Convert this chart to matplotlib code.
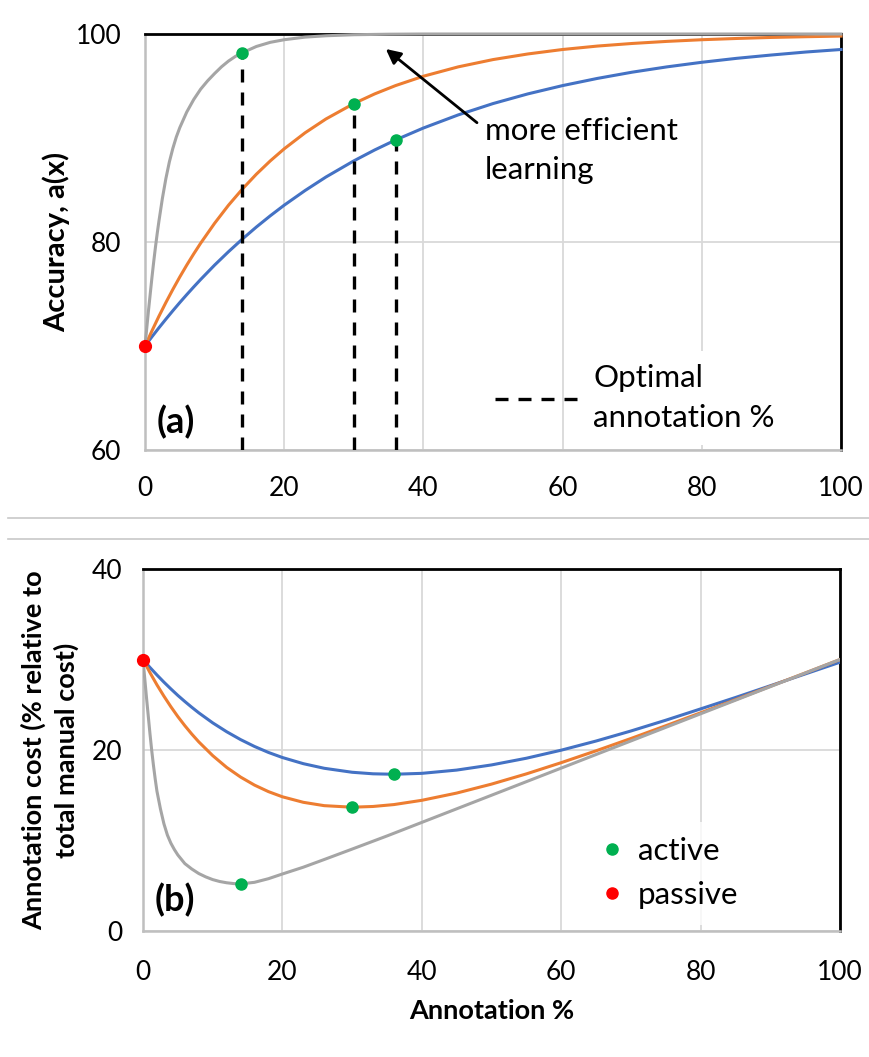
import matplotlib
matplotlib.use("Agg")
import matplotlib.pyplot as plt
from matplotlib.lines import Line2D

plt.rcParams['font.family'] = ['Lato', 'DejaVu Sans']

# ---------------- data ----------------
annot_pct = [0, 1, 2, 3, 4, 5, 6, 7, 8, 10, 12, 14, 16, 18, 20, 23, 26, 30, 33, 36,
             40, 45, 50, 55, 60, 65, 70, 75, 80, 85, 90, 95, 100]

acc_blue = [70.0, 70.89, 71.75, 72.58, 73.39, 74.18, 74.94, 75.68, 76.40, 77.78, 79.07,
            80.29, 81.44, 82.52, 83.54, 84.95, 86.25, 87.80, 88.85, 89.81, 90.96, 92.22,
            93.31, 94.24, 95.04, 95.73, 96.33, 96.84, 97.28, 97.66, 97.98, 98.27, 98.51]
acc_orange = [70.0, 71.46, 72.86, 74.18, 75.44, 76.64, 77.78, 78.86, 79.89, 81.80, 83.54,
              85.10, 86.52, 87.80, 88.96, 90.50, 91.83, 93.31, 94.24, 95.04, 95.94, 96.84,
              97.54, 98.08, 98.51, 98.84, 99.09, 99.29, 99.45, 99.57, 99.67, 99.74, 99.80]
cost_blue = [30.0, 29.12, 28.29, 27.50, 26.75, 26.03, 25.36, 24.72, 24.11, 23.00, 22.02,
             21.15, 20.39, 19.73, 19.17, 18.49, 17.98, 17.54, 17.37, 17.32, 17.42, 17.78,
             18.35, 19.09, 19.98, 20.99, 22.10, 23.29, 24.54, 25.80, 27.10, 28.40, 29.70]
cost_orange = [30.0, 28.55, 27.20, 25.95, 24.78, 23.69, 22.69, 21.76, 20.90, 19.38, 18.08,
               17.01, 16.12, 15.40, 14.83, 14.22, 13.85, 13.68, 13.76, 13.97, 14.44, 15.24,
               16.23, 17.36, 18.60, 19.91, 21.27, 22.68, 24.11, 25.56, 27.03, 28.51, 30.0]

gray_pct = [0, 0.25, 0.5, 0.75, 1, 1.25, 1.5, 1.75, 2, 2.5, 3, 3.5, 4, 4.5, 5,
            6, 7, 8, 9, 10, 11, 12, 13, 14, 16, 18, 20, 23, 26, 30, 35, 40,
            50, 60, 70, 80, 90, 100]
acc_gray = [70.0, 71.7, 73.4, 75.0, 76.6, 78.1, 79.5, 80.8, 82.0, 84.2, 86.1, 87.7, 89.0,
            90.1, 91.0, 92.5, 93.7, 94.7, 95.5, 96.2, 96.85, 97.4, 97.85, 98.2, 98.8,
            99.2, 99.45, 99.7, 99.83, 99.93, 99.98, 100.0,
            100.0, 100.0, 100.0, 100.0, 100.0, 100.0]
cost_gray = [30.0, 27.9, 25.8, 23.8, 21.8, 19.95, 18.3, 16.8, 15.45, 13.5, 11.85, 10.6,
             9.7, 9.0, 8.4, 7.45, 6.85, 6.35, 5.98, 5.68, 5.47, 5.33, 5.24, 5.2, 5.38, 5.78,
             6.3, 7.05, 7.9, 9.05, 10.5, 12.0, 15.0, 18.0, 21.0, 24.0, 27.0, 30.0]

opt_x = [14, 30, 36]                 # optimal annotation % (gray, orange, blue)
opt_acc = [98.2, 93.31, 89.81]
opt_cost = [5.2, 13.68, 17.32]
passive_x = [0]
passive_acc = [70]
passive_cost = [30]

x_ticks = [0, 20, 40, 60, 80, 100]
acc_ticks = [60, 80, 100]
cost_ticks = [0, 20, 40]

# ---------------- style ----------------
C_BLUE = '#4472C4'
C_ORANGE = '#ED7D31'
C_GRAY = '#A5A5A5'
C_GREEN = '#00B050'
C_RED = '#FF0000'
GRID = '#D9D9D9'
AXGRAY = '#BFBFBF'
LW = 2.2
DASH = (0, (3.9, 3.0))

fig = plt.figure(figsize=(8.70, 10.57), dpi=100)
ax1 = fig.add_axes([145/870, 1-450/1057, 696/870, 416/1057])
ax2 = fig.add_axes([143/870, 1-931/1057, 697/870, 362/1057])


def style_axes(ax, ylim, yticks, ypad, xpad):
    ax.set_xlim(0, 100)
    ax.set_ylim(*ylim)
    ax.set_xticks(x_ticks)
    ax.set_yticks(yticks)
    ax.grid(True, color=GRID, lw=1.3, zorder=0)
    ax.set_axisbelow(True)
    ax.tick_params(length=0, labelsize=19, colors='black')
    ax.tick_params(axis='x', pad=xpad)
    ax.tick_params(axis='y', pad=ypad)
    ax.spines['top'].set_color('black')
    ax.spines['top'].set_linewidth(2.0)
    ax.spines['right'].set_color('black')
    ax.spines['right'].set_linewidth(2.0)
    ax.spines['left'].set_color(AXGRAY)
    ax.spines['left'].set_linewidth(1.8)
    ax.spines['bottom'].set_color(AXGRAY)
    ax.spines['bottom'].set_linewidth(1.8)
    for s in ax.spines.values():
        s.set_zorder(1)


# ---------------- panel (a) ----------------
style_axes(ax1, (60, 100), acc_ticks, 17, 19)
ax1.plot(annot_pct, acc_blue, color=C_BLUE, lw=LW, zorder=3, clip_on=False)
ax1.plot(annot_pct, acc_orange, color=C_ORANGE, lw=LW, zorder=3, clip_on=False)
ax1.plot(gray_pct, acc_gray, color=C_GRAY, lw=LW, zorder=3, clip_on=False)
ax1.vlines(opt_x, 60, opt_acc, colors='black', lw=2.4, linestyles=[DASH], zorder=4)
ax1.plot(opt_x, opt_acc, 'o', color=C_GREEN, ms=8, zorder=5)
ax1.plot(passive_x, passive_acc, 'o', color=C_RED, ms=8.5, zorder=5, clip_on=False)

ax1.set_ylabel('Accuracy, a(x)', fontsize=21, fontweight='bold', labelpad=4)

ax1.annotate('', xy=(34.6, 98.56), xytext=(47.7, 91.47),
             arrowprops=dict(arrowstyle='-|>', color='black', lw=2.0,
                             mutation_scale=22, shrinkA=0, shrinkB=0), zorder=6)
ax1.text(48.85, 88.8, 'more efficient\nlearning', fontsize=22.5, va='center',
         ha='left', linespacing=1.5, zorder=6)
ax1.text(1.6, 62.7, '(a)', fontsize=26, fontweight='bold', va='center', ha='left')

leg1 = ax1.legend(handles=[Line2D([], [], color='black', lw=2.4, linestyle=DASH)],
                  labels=['Optimal\nannotation %'], loc='center left',
                  bbox_to_anchor=(0.458, 0.125), fontsize=22.5, frameon=False,
                  handlelength=2.85, handletextpad=0.3, borderpad=0.5)
for t in leg1.get_texts():
    t.set_linespacing(1.55)
    t.set_bbox(dict(facecolor='white', edgecolor='none', pad=9))

# ---------------- panel (b) ----------------
style_axes(ax2, (0, 40), cost_ticks, 15, 21)
ax2.plot(annot_pct, cost_blue, color=C_BLUE, lw=LW, zorder=3)
ax2.plot(annot_pct, cost_orange, color=C_ORANGE, lw=LW, zorder=3)
ax2.plot(gray_pct, cost_gray, color=C_GRAY, lw=LW, zorder=3)
ax2.plot(opt_x, opt_cost, 'o', color=C_GREEN, ms=8, zorder=5)
ax2.plot(passive_x, passive_cost, 'o', color=C_RED, ms=8.5, zorder=5, clip_on=False)

ax2.set_ylabel('Annotation cost (% relative to\ntotal manual cost)', fontsize=19.5,
               fontweight='bold', labelpad=9, linespacing=1.35)
ax2.set_xlabel('Annotation %', fontsize=19.5, fontweight='bold', labelpad=10)
ax2.text(1.6, 3.4, '(b)', fontsize=26, fontweight='bold', va='center', ha='left')

leg2 = ax2.legend(handles=[Line2D([], [], color=C_GREEN, marker='o', ls='none', ms=8),
                           Line2D([], [], color=C_RED, marker='o', ls='none', ms=8)],
                  labels=['active', 'passive'], loc='center left',
                  bbox_to_anchor=(0.61, 0.16), fontsize=22.5, frameon=True,
                  handlelength=0.8, handletextpad=0.42, borderpad=0.5,
                  labelspacing=0.5, fancybox=False)
leg2.get_frame().set_facecolor('white')
leg2.get_frame().set_edgecolor('none')

# separator lines between the panels
for yy in (518, 539):
    fig.add_artist(Line2D([8/870, 1.0], [1-yy/1057, 1-yy/1057],
                          color='#C8C8C8', lw=1.2))

fig.savefig('out.png', dpi=100)
